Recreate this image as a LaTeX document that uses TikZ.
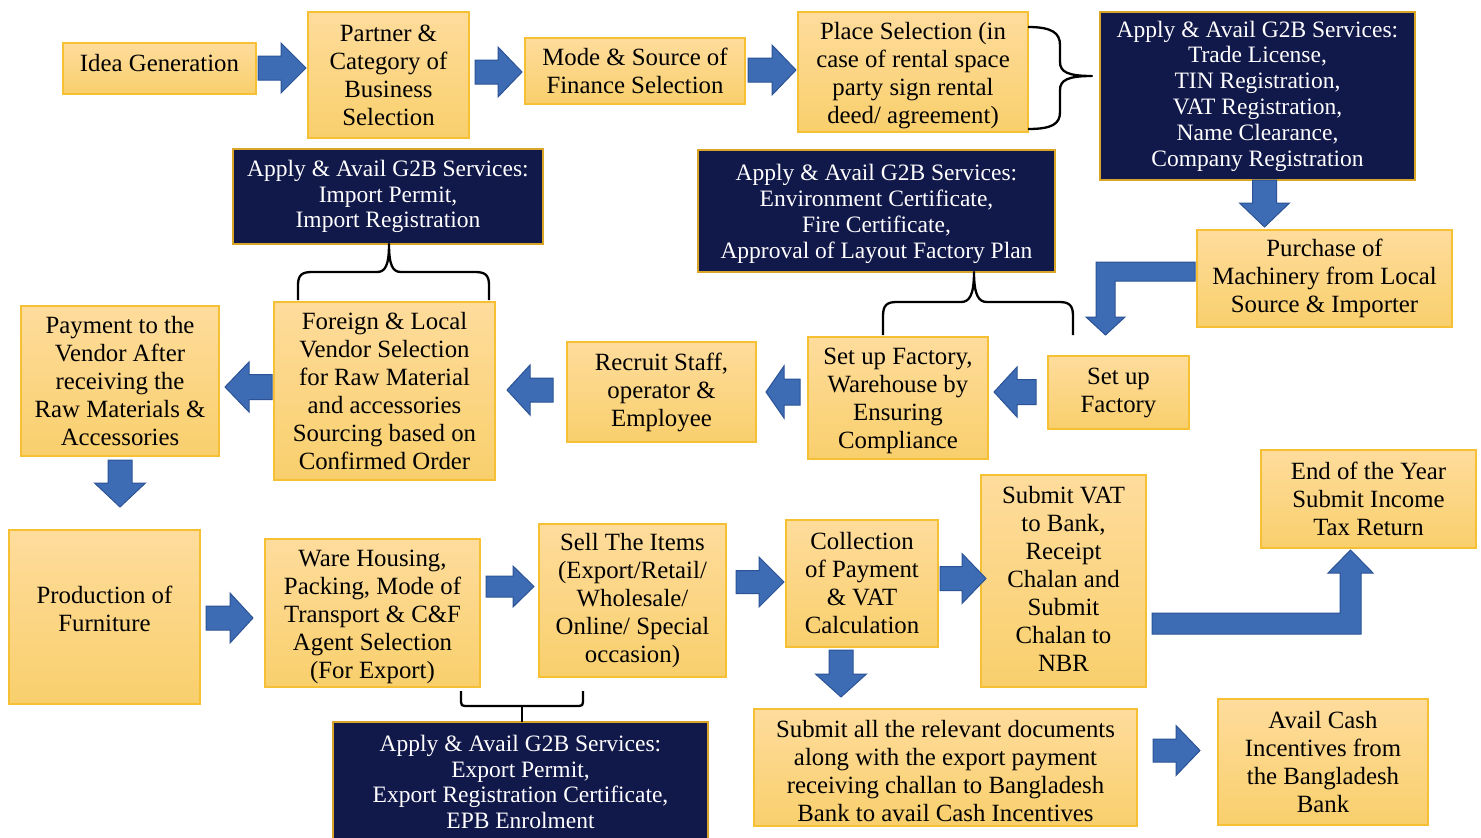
\documentclass[tikz,border=0pt]{standalone}
\usepackage{fontspec}
\setmainfont{Liberation Serif}
\definecolor{ytop}{HTML}{FEDC9C}
\definecolor{ybot}{HTML}{F9CF6C}
\definecolor{ybord}{HTML}{F6C035}
\definecolor{navy}{HTML}{11184A}
\definecolor{dbord}{HTML}{D9A528}
\definecolor{ablue}{HTML}{3D6CB4}
\definecolor{aedge}{HTML}{2C5396}
\tikzset{
  yfont/.style={align=center, text=black, font=\fontsize{24.8}{28}\selectfont},
  ybox/.style={draw=ybord, line width=1.3pt, top color=ytop, bottom color=ybot,
    inner sep=0pt, yfont},
  ytxt/.style={inner sep=0pt, yfont},
  dbox/.style={draw=dbord, line width=1.3pt, fill=navy, align=center,
    inner sep=0pt, text=white, font=\fontsize{23.5}{25.8}\selectfont},
  dtxt/.style={inner sep=0pt, align=center, text=white, font=\fontsize{23.5}{25.8}\selectfont},
  barrowsty/.style={fill=ablue, draw=aedge, line width=1pt, line join=miter},
  bracesty/.style={draw=black, line width=2.3pt, line join=round}
}
% x, y, angle, length, head length, shaft half width, head half width
\newcommand{\BA}[7]{%
  \begin{scope}[shift={(#1,#2)},rotate=#3]
    \draw[barrowsty] (0,-#6) -- ({#4-#5},-#6) -- ({#4-#5},-#7) -- (#4,0) -- ({#4-#5},#7) -- ({#4-#5},#6) -- (0,#6) -- cycle;
  \end{scope}}
\begin{document}
\begin{tikzpicture}[x=1pt,y=-1pt]
\useasboundingbox (0,0) rectangle (1481,838);
\fill[white] (0,0) rectangle (1481,838);

% ---------- row 1 ----------
\node[ybox, minimum width=193pt, minimum height=51pt,
  label={[ytxt, yshift=5pt]center:Idea Generation}] (idea) at (159.5,68.5) {};
\node[ybox, minimum width=161pt, minimum height=126pt] (partner) at (388.5,75) {Partner \&\\Category of\\Business\\Selection};
\node[ybox, minimum width=220pt, minimum height=66pt] (mode) at (635,71) {Mode \& Source of\\Finance Selection};
\node[ybox, minimum width=230pt, minimum height=120pt,
  label={[ytxt, yshift=-4pt]center:{Place Selection (in\\case of rental space\\party sign rental\\deed/ agreement)}}] (place) at (913,72) {};
\node[dbox, minimum width=315pt, minimum height=168pt] (trade) at (1257.5,96) {Apply \& Avail G2B Services:\\Trade License,\\TIN Registration,\\VAT Registration,\\Name Clearance,\\Company Registration};

% ---------- row 2 ----------
\node[dbox, minimum width=310pt, minimum height=95pt] (import) at (388,196.5) {Apply \& Avail G2B Services:\\Import Permit,\\Import Registration};
\node[dbox, minimum width=357pt, minimum height=122pt,
  label={[dtxt, yshift=-3pt]center:{Apply \& Avail G2B Services:\\Environment Certificate,\\Fire Certificate,\\Approval of Layout Factory Plan}}] (env) at (876.5,211) {};
\node[ybox, minimum width=255pt, minimum height=97pt] (purchase) at (1324.5,278.5) {Purchase of\\Machinery from Local\\Source \& Importer};

% ---------- row 3 ----------
\node[ybox, minimum width=198pt, minimum height=150pt] (payment) at (120,381) {Payment to the\\Vendor After\\receiving the\\Raw Materials \&\\Accessories};
\node[ybox, minimum width=221pt, minimum height=178pt] (vendor) at (384.5,391) {Foreign \& Local\\Vendor Selection\\for Raw Material\\and accessories\\Sourcing based on\\Confirmed Order};
\node[ybox, minimum width=189pt, minimum height=100pt] (recruit) at (661.5,392) {Recruit Staff,\\operator \&\\Employee};
\node[ybox, minimum width=180pt, minimum height=122pt,
  label={[ytxt, yshift=-3pt]center:{Set up Factory,\\Warehouse by\\Ensuring\\Compliance}}] (setupwh) at (898,398) {};
\node[ybox, minimum width=141pt, minimum height=73pt] (setup) at (1118.5,392.5) {Set up\\Factory};

% ---------- row 4 ----------
\node[ybox, minimum width=191pt, minimum height=174pt,
  label={[ytxt, yshift=8pt]center:{Production of\\Furniture}}] (production) at (104.5,617) {};
\node[ybox, minimum width=215pt, minimum height=148pt,
  label={[ytxt, yshift=-4pt]center:{Ware Housing,\\Packing, Mode of\\Transport \& C\&F\\Agent Selection\\(For Export)}}] (warehousing) at (372.5,613) {};
\node[ybox, minimum width=187pt, minimum height=153pt] (sell) at (632.5,600.5) {Sell The Items\\(Export/Retail/\\Wholesale/\\Online/ Special\\occasion)};
\node[ybox, minimum width=152pt, minimum height=127pt] (collection) at (862,583.5) {Collection\\of Payment\\\& VAT\\Calculation};
\node[ybox, minimum width=165pt, minimum height=212pt,
  label={[ytxt, yshift=2pt]center:{Submit VAT\\to Bank,\\Receipt\\Chalan and\\Submit\\Chalan to\\NBR}}] (submitvat) at (1063.5,581) {};
\node[ybox, minimum width=215pt, minimum height=98pt] (endyear) at (1368.5,499) {End of the Year\\Submit Income\\Tax Return};

% ---------- row 5 ----------
\node[dbox, minimum width=375pt, minimum height=120pt] (export) at (520.5,782) {Apply \& Avail G2B Services:\\Export Permit,\\Export Registration Certificate,\\EPB Enrolment};
\node[ybox, minimum width=383pt, minimum height=117pt,
  label={[ytxt, yshift=-4pt]center:{Submit all the relevant documents\\along with the export payment\\receiving challan to Bangladesh\\Bank to avail Cash Incentives}}] (submitdocs) at (945.5,767.5) {};
\node[ybox, minimum width=210pt, minimum height=126pt] (avail) at (1323,762) {Avail Cash\\Incentives from\\the Bangladesh\\Bank};

% ---------- block arrows ----------
\BA{258}{68}{0}{48}{25}{12}{25}
\BA{475}{72}{0}{47}{24}{12}{25}
\BA{748}{70}{0}{48}{24}{12}{25}
\BA{1264.5}{180}{-90}{47}{24}{12}{25}
\draw[barrowsty] (1195,262) -- (1096,262) -- (1096,317) -- (1086,317) -- (1105.5,335) -- (1125,317) -- (1115,317) -- (1115,281) -- (1195,281) -- cycle;
\BA{1036}{392}{180}{42}{23}{12.5}{25}
\BA{800}{392}{180}{34}{18}{13}{26}
\BA{553}{390}{180}{46}{23}{12}{25}
\BA{272}{387}{180}{47}{24}{12.5}{25}
\BA{120}{460}{-90}{47}{24}{12}{25.5}
\BA{206}{618}{0}{47}{23}{12}{25}
\BA{486}{586.5}{0}{48}{21}{10.5}{20.5}
\BA{736}{582}{0}{48}{25}{11.5}{25}
\BA{940}{578.5}{0}{46}{24}{12}{25}
\draw[barrowsty] (1152,613) -- (1340,613) -- (1340,573) -- (1328,573) -- (1350.5,550) -- (1373,573) -- (1361,573) -- (1361,634) -- (1152,634) -- cycle;
\BA{841}{650}{-90}{47}{23}{12}{25.5}
\BA{1153}{750.5}{0}{47}{24}{11.5}{25}

% ---------- braces ----------
\draw[bracesty] (1028,27) .. controls (1052,27) and (1060,33) .. (1060,45) -- (1060,62)
  .. controls (1060,72) and (1068,76) .. (1092,76)
  .. controls (1068,76) and (1060,80) .. (1060,90) -- (1060,112)
  .. controls (1060,124) and (1052,129) .. (1028,129);
\draw[bracesty] (298,300) -- (298,285) .. controls (298,275) and (302,272) .. (312,272) -- (377,272)
  .. controls (385,272) and (389,266) .. (389,244)
  .. controls (389,266) and (393,272) .. (401,272) -- (475,272)
  .. controls (485,272) and (489,275) .. (489,285) -- (489,300);
\draw[bracesty] (883,335) -- (883,316) .. controls (883,305) and (887,302) .. (897,302) -- (961,302)
  .. controls (969,302) and (974,296) .. (974,272)
  .. controls (974,296) and (979,302) .. (987,302) -- (1059,302)
  .. controls (1069,302) and (1073,305) .. (1073,316) -- (1073,335);
\draw[bracesty] (461,691) -- (461,702) .. controls (461,705) and (462,706) .. (465,706) -- (579,706)
  .. controls (582,706) and (583,705) .. (583,702) -- (583,691);
\draw[bracesty] (522,706) -- (522,722);
\end{tikzpicture}
\end{document}
